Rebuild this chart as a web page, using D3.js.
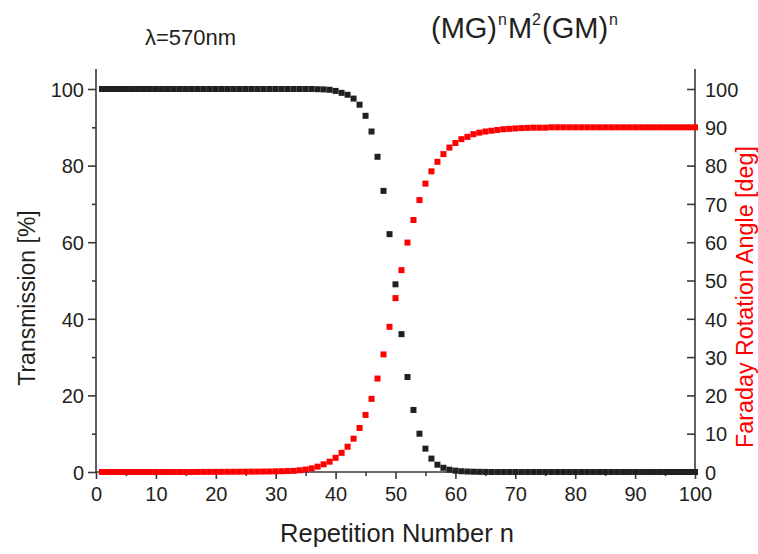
<!DOCTYPE html>
<html>
<head>
<meta charset="utf-8">
<script src="https://cdn.jsdelivr.net/npm/d3@7"></script>
<style>
  html, body { margin: 0; padding: 0; background: #fff; }
  svg { display: block; font-family: "Liberation Sans", Arial, sans-serif; }
</style>
</head>
<body>
<svg id="chart" width="758" height="554"></svg>
<script>
// Repetition number n of the (MG)^n M^2 (GM)^n stack
const repetitions = d3.range(1, 101);

// Transmission [%] for n = 1..100
const transmission = [
  100, 100, 100, 100, 100, 100, 100, 100, 100, 100,
  100, 100, 100, 100, 100, 100, 100, 100, 100, 100,
  100, 100, 100, 100, 100, 100, 100, 100, 100, 100,
  100, 100, 100, 100, 100, 100, 99.95, 99.9, 99.8, 99.5,
  99.0, 98.5, 97.5, 95.9, 93.0, 88.9, 82.3, 73.4, 62.1, 49.0,
  36.0, 24.8, 16.2, 10.0, 6.1, 3.5, 1.9, 1.1, 0.6, 0.35,
  0.2, 0.12, 0.07, 0.04, 0.02, 0, 0, 0, 0, 0,
  0, 0, 0, 0, 0, 0, 0, 0, 0, 0,
  0, 0, 0, 0, 0, 0, 0, 0, 0, 0,
  0, 0, 0, 0, 0, 0, 0, 0, 0, 0
];

// Faraday rotation angle [deg] for n = 1..100
const rotation = [
  0, 0, 0, 0, 0, 0, 0, 0, 0, 0,
  0, 0, 0, 0, 0, 0, 0.02, 0.03, 0.03, 0.04,
  0.05, 0.05, 0.06, 0.07, 0.08, 0.09, 0.1, 0.12, 0.14, 0.17,
  0.2, 0.25, 0.3, 0.45, 0.65, 0.95, 1.4, 2.0, 2.7, 3.7,
  5.0, 6.6, 8.7, 11.5, 14.9, 19.1, 24.4, 30.7, 37.9, 45.4,
  52.7, 59.9, 65.8, 71.0, 75.3, 78.5, 81.0, 83.0, 84.7, 85.9,
  86.9, 87.5, 88.2, 88.6, 88.9, 89.1, 89.3, 89.5, 89.6, 89.7,
  89.8, 89.85, 89.9, 89.9, 89.9, 90, 90, 90, 90, 90,
  90, 90, 90, 90, 90, 90, 90, 90, 90, 90,
  90, 90, 90, 90, 90, 90, 90, 90, 90, 90
];

const xTicks = d3.range(0, 101, 10);
const xMinorTicks = d3.range(5, 100, 10);
const leftTicks = d3.range(0, 101, 20);
const leftMinorTicks = d3.range(10, 100, 20);
const rightTicks = d3.range(0, 101, 10);

const ink = "#231f20";
const axisInk = "#3a3a3a";
const red = "#ff0000";
const font = "'Liberation Sans', Arial, sans-serif";

const svg = d3.select("#chart");
const plot = { left: 96, right: 695, top: 69, bottom: 472 };

const x = d3.scaleLinear().domain([0, 100]).range([plot.left, plot.right]);
const yL = d3.scaleLinear().domain([0, 100]).range([plot.bottom, 89]);
const yR = d3.scaleLinear().domain([0, 100]).range([plot.bottom, 89]);

function styleAxis(g) {
  g.select(".domain").remove();
  g.selectAll(".tick line").attr("stroke", axisInk).attr("stroke-width", 1.6);
  g.selectAll(".tick text").attr("fill", ink).style("font-size", "20px")
    .style("font-family", font);
}

// Minor ticks first so the major ticks sit on top
svg.append("g").attr("transform", `translate(0,${plot.bottom})`)
  .call(d3.axisBottom(x).tickValues(xMinorTicks).tickSize(4).tickFormat(""))
  .call(styleAxis);
svg.append("g").attr("transform", `translate(${plot.left},0)`)
  .call(d3.axisLeft(yL).tickValues(leftMinorTicks).tickSize(4).tickFormat(""))
  .call(styleAxis);

svg.append("g").attr("transform", `translate(0,${plot.bottom})`)
  .call(d3.axisBottom(x).tickValues(xTicks).tickSize(7).tickPadding(8).tickFormat(d3.format("d")))
  .call(styleAxis);
svg.append("g").attr("transform", `translate(${plot.left},0)`)
  .call(d3.axisLeft(yL).tickValues(leftTicks).tickSize(8).tickPadding(4).tickFormat(d3.format("d")))
  .call(styleAxis)
  .call(g => g.selectAll(".tick text").attr("dy", "0.36em"));
// Right axis: ticks point into the plot, labels outside
svg.append("g").attr("transform", `translate(${plot.right},0)`)
  .call(d3.axisRight(yR).tickValues(rightTicks).tickSize(-8).tickPadding(10).tickFormat(d3.format("d")))
  .call(styleAxis)
  .call(g => g.selectAll(".tick text").attr("dy", "0.36em"));

// Axis lines
const axisLines = [
  [plot.left, plot.bottom, plot.right, plot.bottom],
  [plot.left, plot.top, plot.left, plot.bottom],
  [plot.right, plot.top, plot.right, plot.bottom]
];
svg.append("g").selectAll("line").data(axisLines).join("line")
  .attr("x1", d => d[0]).attr("y1", d => d[1])
  .attr("x2", d => d[2]).attr("y2", d => d[3])
  .attr("stroke", axisInk).attr("stroke-width", 1.6);

// Markers
const size = 6;
svg.append("g").selectAll("rect").data(repetitions).join("rect")
  .attr("x", (n) => x(n) - size / 2)
  .attr("y", (n, i) => yL(transmission[i]) - size / 2)
  .attr("width", size).attr("height", size)
  .attr("fill", ink);

svg.append("g").selectAll("rect").data(repetitions).join("rect")
  .attr("x", (n) => x(n) - size / 2)
  .attr("y", (n, i) => yR(rotation[i]) - size / 2)
  .attr("width", size).attr("height", size)
  .attr("fill", red);

// Axis titles
svg.append("text")
  .attr("x", 397).attr("y", 542)
  .attr("text-anchor", "middle").attr("fill", ink)
  .style("font-size", "25.5px")
  .text("Repetition Number n");

svg.append("text")
  .attr("transform", `translate(35,298) rotate(-90)`)
  .attr("text-anchor", "middle").attr("fill", ink)
  .style("font-size", "23px")
  .text("Transmission [%]");

svg.append("text")
  .attr("transform", `translate(753,${297}) rotate(-90)`)
  .attr("text-anchor", "middle").attr("fill", red)
  .style("font-size", "23.3px")
  .text("Faraday Rotation Angle [deg]");

// Annotations
svg.append("text")
  .attr("x", 145).attr("y", 45).attr("fill", ink)
  .style("font-size", "22px")
  .text("λ=570nm");

const title = svg.append("text")
  .attr("x", 431).attr("y", 38).attr("fill", ink)
  .style("font-size", "29px");
title.append("tspan").text("(MG)");
title.append("tspan").attr("dx", 1).attr("dy", -13).style("font-size", "16px").text("n");
title.append("tspan").attr("dx", 1).attr("dy", 13).text("M");
title.append("tspan").attr("dy", -13).style("font-size", "16px").text("2");
title.append("tspan").attr("dx", 1).attr("dy", 13).text("(GM)");
title.append("tspan").attr("dx", 1).attr("dy", -13).style("font-size", "16px").text("n");
</script>
</body>
</html>
